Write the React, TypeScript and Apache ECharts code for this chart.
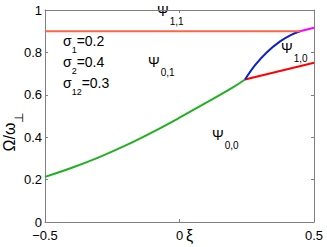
import React, { useEffect, useRef } from "react";
import * as echarts from "echarts";

const xTicks = [-0.5, 0, 0.5];
const yTicks = [0, 0.2, 0.4, 0.6, 0.8, 1];

const greenXi = [-0.5, -0.4, -0.3, -0.2, -0.1, 0, 0.1, 0.2, 0.2435];
const greenOmega = [0.213, 0.256, 0.305, 0.361, 0.424, 0.492, 0.563, 0.636, 0.672];
const blueXi = [0.2435, 0.281, 0.324, 0.374, 0.417, 0.448];
const blueOmega = [0.672, 0.74, 0.8, 0.852, 0.884, 0.9];
const redXi = [0.2435, 0.5];
const redOmega = [0.672, 0.751];
const orangeXi = [-0.5, 0.448];
const orangeOmega = [0.9, 0.9];
const magentaXi = [0.448, 0.5];
const magentaOmega = [0.9, 0.916];

const FONT = "Liberation Sans, Arial, Helvetica, sans-serif";
const AXIS_COLOR = "#808080";

const zip = (xs: number[], ys: number[]) => xs.map((x, i) => [x, ys[i]]);

const psiLabel = (x: number, y: number, sub: string) => ({
  type: "text",
  x,
  y,
  style: {
    text: `{m|Ψ}{s|${sub}}`,
    fill: "#000",
    rich: {
      m: { fontSize: 14, fontFamily: FONT, lineHeight: 22, verticalAlign: "top", fill: "#000" },
      s: { fontSize: 10, fontFamily: FONT, lineHeight: 22, verticalAlign: "bottom", padding: [0, 0, 0, 1], fill: "#000" },
    },
  },
});

const sigmaLabel = (x: number, y: number, sub: string, val: string) => ({
  type: "text",
  x,
  y,
  style: {
    text: `{m|σ}{s|${sub}}{m|=${val}}`,
    fill: "#000",
    rich: {
      m: { fontSize: 14, fontFamily: FONT, lineHeight: 20, verticalAlign: "top", fill: "#000" },
      s: { fontSize: 9, fontFamily: FONT, lineHeight: 20, verticalAlign: "bottom", fill: "#000" },
    },
  },
});

export default function App() {
  const ref = useRef<HTMLDivElement>(null);
  useEffect(() => {
    document.body.style.margin = "0";
    if (!ref.current) return;
    const chart = echarts.init(ref.current, null, { renderer: "svg" });
    const axisLine = { show: true, onZero: false, lineStyle: { color: AXIS_COLOR, width: 1 } };
    const axisTick = { show: true, inside: true, length: 3, lineStyle: { color: AXIS_COLOR } };
    const fmt = (v: number) => String(Math.round(v * 10) / 10).replace("-", "\u2212");
    chart.setOption({
      animation: false,
      backgroundColor: "#fff",
      grid: { left: 45, right: 13, top: 10, bottom: 25, containLabel: false, outerBoundsMode: "none" },
      xAxis: [
        {
          type: "value",
          min: xTicks[0],
          max: xTicks[xTicks.length - 1],
          interval: 0.5,
          position: "bottom",
          axisLine,
          axisTick,
          splitLine: { show: false },
          axisLabel: { color: "#000", fontSize: 13, lineHeight: 13, fontFamily: FONT, margin: 7, formatter: fmt },
        },
        {
          type: "value",
          min: xTicks[0],
          max: xTicks[xTicks.length - 1],
          interval: 0.5,
          position: "top",
          axisLine,
          axisTick,
          splitLine: { show: false },
          axisLabel: { show: false },
        },
      ],
      yAxis: [
        {
          type: "value",
          min: yTicks[0],
          max: yTicks[yTicks.length - 1],
          interval: 0.2,
          position: "left",
          axisLine,
          axisTick,
          splitLine: { show: false },
          axisLabel: { color: "#000", fontSize: 13, lineHeight: 13, fontFamily: FONT, margin: 3, formatter: fmt },
        },
        {
          type: "value",
          min: yTicks[0],
          max: yTicks[yTicks.length - 1],
          interval: 0.2,
          position: "right",
          axisLine,
          axisTick,
          splitLine: { show: false },
          axisLabel: { show: false },
        },
      ],
      series: [
        { type: "line", data: zip(greenXi, greenOmega), smooth: 0.4, showSymbol: false, lineStyle: { color: "#22b020", width: 2 }, xAxisIndex: 0, yAxisIndex: 0 },
        { type: "line", data: zip(redXi, redOmega), showSymbol: false, lineStyle: { color: "#ff0000", width: 2 }, xAxisIndex: 0, yAxisIndex: 0 },
        { type: "line", data: zip(blueXi, blueOmega), smooth: 0.4, showSymbol: false, lineStyle: { color: "#0a22c8", width: 2 }, xAxisIndex: 0, yAxisIndex: 0 },
        { type: "line", data: zip(orangeXi, orangeOmega), showSymbol: false, lineStyle: { color: "#ff6347", width: 2 }, xAxisIndex: 0, yAxisIndex: 0 },
        { type: "line", data: zip(magentaXi, magentaOmega), showSymbol: false, lineStyle: { color: "#ff00ff", width: 2 }, xAxisIndex: 0, yAxisIndex: 0 },
      ],
      graphic: [
        {
          type: "text",
          x: 13,
          y: 132,
          rotation: Math.PI / 2,
          style: {
            text: "{m|Ω/ω}{s|⊥}",
            align: "center",
            verticalAlign: "middle",
            fill: "#000",
            rich: {
              m: { fontSize: 16, fontFamily: FONT, lineHeight: 24, verticalAlign: "top", fill: "#000" },
              s: { fontSize: 12, fontFamily: FONT, lineHeight: 24, verticalAlign: "bottom", fill: "#000" },
            },
          },
        },
        {
          type: "text",
          x: 186,
          y: 235,
          style: { text: "ξ", fontSize: 16, fontFamily: FONT, fill: "#000", verticalAlign: "middle" },
        },
        psiLabel(157, 4, "1,1"),
        psiLabel(148, 55, "0,1"),
        psiLabel(281, 41, "1,0"),
        psiLabel(212, 128, "0,0"),
        sigmaLabel(63, 34, "1", "0.2"),
        sigmaLabel(63, 55, "2", "0.4"),
        sigmaLabel(63, 76, "12", "0.3"),
      ],
    });
    return () => chart.dispose();
  }, []);
  return <div ref={ref} style={{ width: 327, height: 247 }} />;
}
